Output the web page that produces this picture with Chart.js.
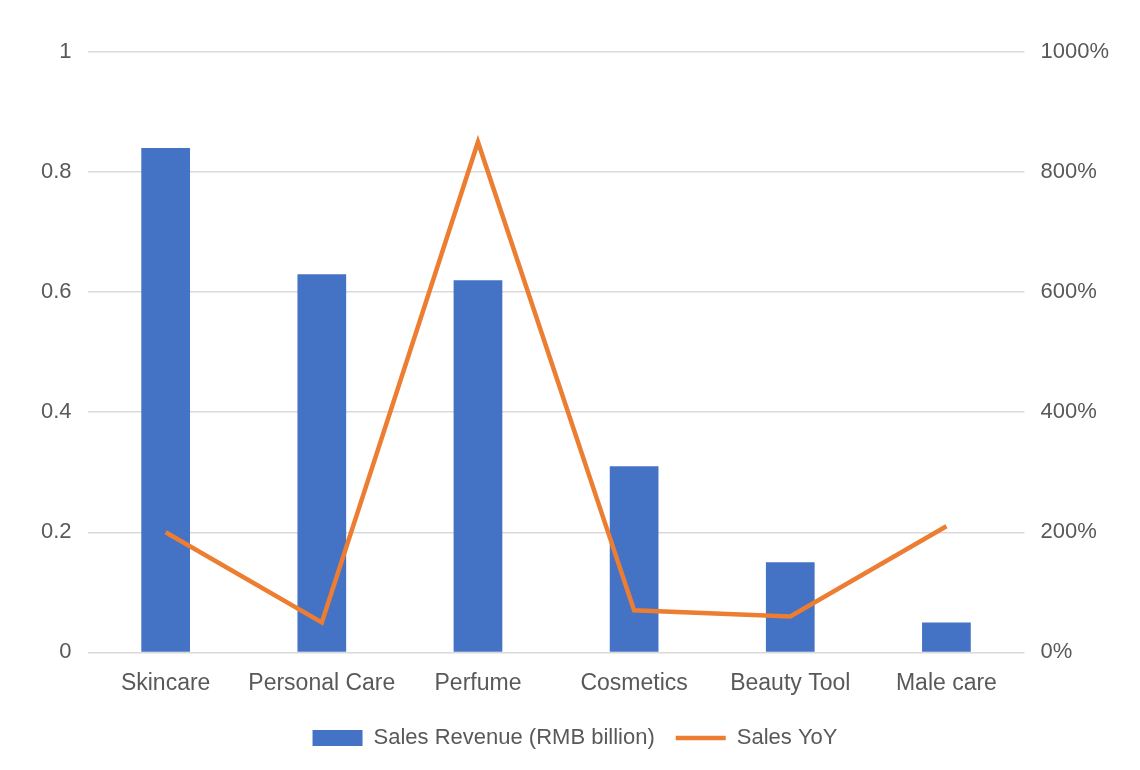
<!DOCTYPE html>
<html>
<head>
<meta charset="utf-8">
<script src="https://cdn.jsdelivr.net/npm/chart.js@4"></script>
<style>
html,body{margin:0;padding:0;background:#fff}
#wrap{width:1140px;height:770px}
</style>
</head>
<body>
<div id="wrap"><canvas id="salesChart" width="1140" height="770"></canvas></div>
<script>
// DATA
const categories = ['Skincare','Personal Care','Perfume','Cosmetics','Beauty Tool','Male care']
const revenue = [0.84,0.63,0.62,0.31,0.15,0.05]
const yoy = [200,50,850,70,60,210]
const leftTicks = [0,0.2,0.4,0.6,0.8,1]
const rightTicks = [0,200,400,600,800,1000]

Chart.defaults.font.family = '"Liberation Sans", Arial, Helvetica, sans-serif'
Chart.defaults.font.size = 22
Chart.defaults.color = '#595959'

const ctx = document.getElementById('salesChart')

new Chart(ctx,{
  data:{
    labels:categories,
    datasets:[
      {
        type:'line',
        label:'Sales YoY',
        data:yoy,
        yAxisID:'y1',
        borderColor:'#ED7D31',
        backgroundColor:'#ED7D31',
        borderWidth:4.5,
        pointRadius:0,
        tension:0,
        pointStyle:'line',
        order:1
      },
      {
        type:'bar',
        label:'Sales Revenue (RMB billion)',
        data:revenue,
        yAxisID:'y',
        backgroundColor:'#4472C4',
        categoryPercentage:0.8,
        barPercentage:0.39,
        pointStyle:'rect',
        order:2
      }
    ]
  },
  options:{
    responsive:false,
    animation:false,
    layout:{padding:{left:25,right:15,top:52,bottom:11}},
    plugins:{
      tooltip:{enabled:false},
      legend:{
        position:'bottom',
        reverse:true,
        labels:{
          usePointStyle:true,
          pointStyleWidth:50,
          boxHeight:16,
          padding:21,
          color:'#595959'
        }
      }
    },
    scales:{
      x:{
        grid:{display:false},
        border:{display:false},
        ticks:{padding:9,font:{size:23}}
      },
      y:{
        position:'left',
        min:0,max:1,
        afterBuildTicks:axis=>{axis.ticks = leftTicks.map(v=>({value:v}))},
        grid:{color:'#d9d9d9',lineWidth:1.5,drawTicks:false},
        border:{display:false},
        ticks:{padding:16,callback:v=>String(v)}
      },
      y1:{
        position:'right',
        min:0,max:1000,
        afterBuildTicks:axis=>{axis.ticks = rightTicks.map(v=>({value:v}))},
        grid:{drawOnChartArea:false,drawTicks:false},
        border:{display:false},
        ticks:{padding:16,callback:v=>v+'%'}
      }
    }
  }
})
</script>
</body>
</html>
